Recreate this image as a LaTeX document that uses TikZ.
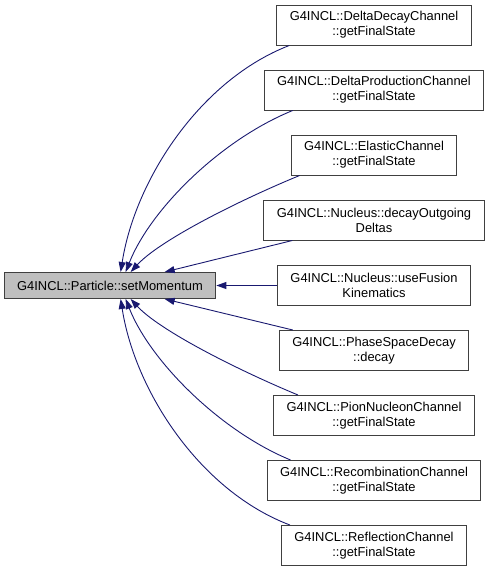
\documentclass[tikz,border=0pt]{standalone}
\usepackage{fontspec}
\setmainfont{Liberation Sans}
\usetikzlibrary{arrows.meta,calc}
\definecolor{edgeblue}{HTML}{191970}
\definecolor{boxgray}{HTML}{BFBFBF}
\definecolor{boxline}{HTML}{404040}
\tikzset{
  fn/.style={draw=boxline, line width=1pt, fill=white, align=center,
    font=\fontsize{12.9}{15}\selectfont, inner xsep=13pt, inner ysep=0pt,
    minimum height=40pt},
  cur/.style={fn, fill=boxgray, minimum height=26pt},
  edge/.style={draw=edgeblue, line width=0.9pt,
    {Triangle[length=10pt,width=7pt]}-}
}
\begin{document}
\begin{tikzpicture}[x=1pt,y=-1pt]
\useasboundingbox (0,0) rectangle (488,573);
\node[cur] (p) at (110,285.5) {G4INCL::Particle::setMomentum};
\node[fn] (b1) at (374,25) {G4INCL::DeltaDecayChannel\\::getFinalState};
\node[fn] (b2) at (374,90) {G4INCL::DeltaProductionChannel\\::getFinalState};
\node[fn] (b3) at (374,155) {G4INCL::ElasticChannel\\::getFinalState};
\node[fn] (b4) at (374,220) {G4INCL::Nucleus::decayOutgoing\\Deltas};
\node[fn] (b5) at (374,285.5) {G4INCL::Nucleus::useFusion\\Kinematics};
\node[fn] (b6) at (374,350.5) {G4INCL::PhaseSpaceDecay\\::decay};
\node[fn] (b7) at (374,415.5) {G4INCL::PionNucleonChannel\\::getFinalState};
\node[fn] (b8) at (374,480.5) {G4INCL::RecombinationChannel\\::getFinalState};
\node[fn] (b9) at (374,545.5) {G4INCL::ReflectionChannel\\::getFinalState};

\draw[edge] ($(p.north west)+(117,0)$) .. controls (135,180) and (200,80) .. ($(b1.south west)+(13,0)$);
\draw[edge] ($(p.north west)+(122,0)$) .. controls (150,210) and (220,140) .. ($(b2.south west)+(29,0)$);
\draw[edge] ($(p.north west)+(127,0)$) .. controls (160,240) and (240,200) .. ($(b3.south west)+(9,0)$);
\draw[edge] ($(p.north west)+(161,0)$) -- ($(b4.south west)+(29,0)$);
\draw[edge] (p.east) -- (b5.west);
\draw[edge] ($(p.south west)+(161,0)$) -- ($(b6.north west)+(14,0)$);
\draw[edge] ($(p.south west)+(127,0)$) .. controls (160,331) and (240,371) .. ($(b7.north west)+(25,0)$);
\draw[edge] ($(p.south west)+(122,0)$) .. controls (150,361) and (220,431) .. ($(b8.north west)+(24,0)$);
\draw[edge] ($(p.south west)+(117,0)$) .. controls (135,391) and (200,491) .. ($(b9.north west)+(9,0)$);
\end{tikzpicture}
\end{document}
